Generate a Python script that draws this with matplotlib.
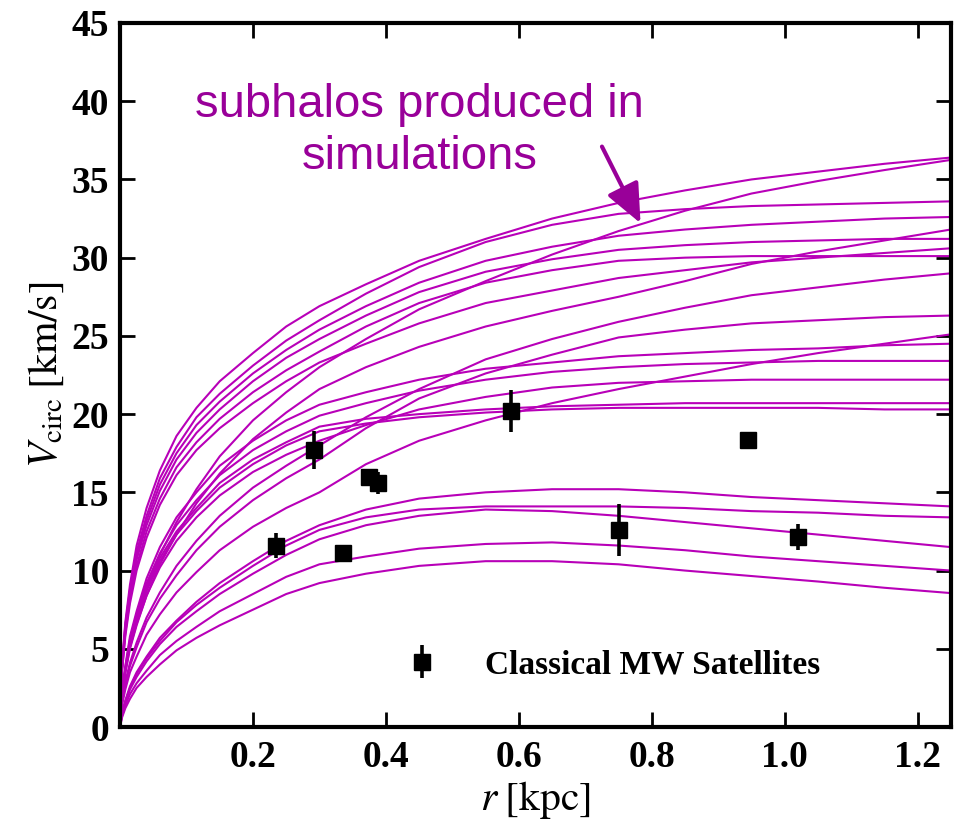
import matplotlib
matplotlib.use("Agg")
import matplotlib.pyplot as plt

# radii (kpc) at which each rotation curve is tabulated
r_grid = [0, 0.003, 0.008, 0.015, 0.025, 0.04, 0.06, 0.085, 0.115, 0.15, 0.2, 0.25, 0.3,
          0.37, 0.45, 0.55, 0.65, 0.75, 0.85, 0.95, 1.05, 1.15, 1.25]

# circular-velocity curves (km/s) of the massive simulated subhalos
upper_curves = [
    [0, 4.0, 6.7, 9.1, 11.6, 14.0, 16.4, 18.6, 20.4, 22.1, 23.9, 25.6, 26.9,
     28.3, 29.8, 31.2, 32.5, 33.5, 34.3, 35.0, 35.5, 36.0, 36.4],
    [0, 3.9, 6.5, 8.8, 11.2, 13.5, 15.9, 17.9, 19.8, 21.3, 23.1, 24.7, 26.0,
     27.7, 29.4, 31.0, 32.1, 32.8, 33.1, 33.3, 33.4, 33.5, 33.6],
    [0, 3.8, 6.4, 8.6, 10.9, 13.2, 15.5, 17.5, 19.3, 20.8, 22.6, 24.1, 25.4,
     26.9, 28.4, 29.8, 30.7, 31.4, 31.8, 32.1, 32.3, 32.5, 32.6],
    [0, 3.7, 6.2, 8.4, 10.7, 12.9, 15.1, 17.1, 18.8, 20.3, 22.1, 23.6, 24.8,
     26.3, 27.8, 29.1, 29.9, 30.5, 30.8, 31.0, 31.1, 31.2, 31.2],
    [0, 3.6, 6.0, 8.2, 10.3, 12.5, 14.6, 16.6, 18.2, 19.7, 21.4, 22.8, 24.0,
     25.6, 27.1, 28.4, 29.2, 29.8, 30.0, 30.1, 30.1, 30.1, 30.1],
    [0, 3.5, 5.8, 7.9, 10.0, 12.1, 14.2, 16.1, 17.7, 19.1, 20.7, 22.1, 23.3,
     24.5, 25.8, 27.1, 27.9, 28.7, 29.2, 29.7, 30.0, 30.3, 30.6],
    [0, 2.1, 3.7, 5.3, 6.9, 9.0, 11.0, 13.1, 15.2, 17.3, 19.6, 21.4, 23.0,
     24.8, 26.7, 28.5, 30.2, 31.7, 33.0, 34.1, 34.9, 35.6, 36.25],
    [0, 2.3, 3.9, 5.8, 7.4, 9.5, 11.5, 13.4, 15.0, 16.7, 18.3, 19.6, 20.6,
     21.4, 22.2, 22.9, 23.3, 23.7, 23.9, 24.1, 24.2, 24.4, 24.5],
    [0, 1.9, 3.5, 5.0, 6.5, 8.4, 10.4, 12.3, 14.3, 16.2, 18.4, 20.1, 21.6,
     23.0, 24.3, 25.6, 26.6, 27.5, 28.5, 29.6, 30.4, 31.1, 31.8],
    [0, 2.2, 3.8, 5.6, 7.2, 9.2, 11.1, 12.9, 14.5, 16.1, 17.7, 18.9, 19.9,
     20.7, 21.5, 22.2, 22.7, 23.0, 23.2, 23.3, 23.4, 23.4, 23.4],
    [0, 2.1, 3.6, 5.4, 6.9, 8.8, 10.8, 12.5, 14.0, 15.6, 17.1, 18.2, 19.2,
     19.7, 20.0, 20.3, 20.5, 20.6, 20.7, 20.7, 20.7, 20.7, 20.7],
    [0, 2.1, 3.6, 5.3, 6.8, 8.7, 10.6, 12.3, 13.8, 15.3, 16.8, 18.0, 18.9,
     19.4, 19.8, 20.1, 20.3, 20.4, 20.4, 20.4, 20.4, 20.3, 20.3],
    [0, 2.0, 3.5, 5.1, 6.6, 8.4, 10.2, 11.9, 13.4, 14.8, 16.3, 17.4, 18.3,
     19.3, 20.3, 21.1, 21.7, 22.0, 22.1, 22.2, 22.2, 22.2, 22.2],
    [0, 1.6, 2.9, 4.1, 5.4, 7.0, 8.6, 10.3, 11.9, 13.5, 15.3, 16.7, 18.0,
     19.8, 21.6, 23.5, 24.8, 25.9, 26.8, 27.6, 28.1, 28.6, 29.0],
    [0, 1.5, 2.7, 3.9, 5.1, 6.7, 8.2, 9.7, 11.3, 12.8, 14.5, 15.9, 17.1,
     19.1, 21.0, 22.6, 23.8, 24.9, 25.4, 25.8, 26.0, 26.2, 26.3],
    [0, 1.4, 2.4, 3.5, 4.5, 5.9, 7.2, 8.6, 9.9, 11.3, 12.8, 14.0, 15.0,
     16.8, 18.3, 19.6, 20.7, 21.6, 22.4, 23.2, 23.9, 24.5, 25.1],
]
lower_curves = [
    [0, 0.9, 1.7, 2.6, 3.5, 4.5, 5.7, 6.8, 8.0, 9.2, 10.6, 11.9, 12.9,
     13.9, 14.6, 15.0, 15.2, 15.2, 15.0, 14.7, 14.5, 14.3, 14.1],
    [0, 0.9, 1.6, 2.5, 3.4, 4.4, 5.5, 6.7, 7.8, 8.9, 10.3, 11.6, 12.6,
     13.4, 13.9, 14.1, 14.1, 14.1, 14.0, 13.8, 13.7, 13.5, 13.4],
    [0, 0.8, 1.6, 2.4, 3.2, 4.2, 5.3, 6.4, 7.4, 8.5, 9.8, 11.0, 12.0,
     12.9, 13.5, 13.9, 13.8, 13.5, 13.1, 12.7, 12.3, 11.9, 11.5],
    [0, 0.7, 1.4, 2.1, 2.8, 3.6, 4.6, 5.5, 6.4, 7.4, 8.5, 9.6, 10.4,
     10.9, 11.4, 11.7, 11.8, 11.6, 11.3, 10.9, 10.6, 10.3, 10.0],
    [0, 0.6, 1.2, 1.8, 2.5, 3.2, 4.0, 4.9, 5.7, 6.5, 7.5, 8.5, 9.2,
     9.8, 10.3, 10.6, 10.6, 10.4, 10.0, 9.65, 9.3, 8.9, 8.56],
]

# classical Milky Way satellites: half-light radius, V_circ and its error
sat_r = [0.235, 0.292, 0.335, 0.374, 0.388, 0.588, 0.751, 0.945, 1.020]
sat_v = [11.6, 17.7, 11.1, 16.0, 15.6, 20.2, 12.6, 18.35, 12.15]
sat_err = [0.8, 1.2, 0.3, 0.3, 0.7, 1.35, 1.65, 0.3, 0.85]

x_ticks = [0.2, 0.4, 0.6, 0.8, 1.0, 1.2]
y_ticks = [0, 5, 10, 15, 20, 25, 30, 35, 40, 45]

curve_color = "#b800b8"
note_color = "#990099"

plt.rcParams["mathtext.fontset"] = "stix"

fig = plt.figure(figsize=(9.6, 8.24), dpi=100)
ax = fig.add_axes([0.125, 0.1177, 0.8656, 0.8544])

for v in upper_curves + lower_curves:
    ax.plot(r_grid, v, color=curve_color, lw=1.5, solid_joinstyle="round",
            solid_capstyle="round", zorder=2)

ax.errorbar(sat_r, sat_v, yerr=sat_err, fmt="s", color="black", ms=11,
            elinewidth=2.6, capsize=0, zorder=4, label="Classical MW Satellites")

ax.set_xlim(0, 1.25)
ax.set_ylim(0, 45)
ax.set_xticks(x_ticks)
ax.set_yticks(y_ticks)
ax.set_xticklabels([f"{t:.1f}" for t in x_ticks])
ax.set_yticklabels([str(t) for t in y_ticks])

for lab in ax.get_xticklabels() + ax.get_yticklabels():
    lab.set_fontfamily("Liberation Serif")
    lab.set_fontweight("bold")
    lab.set_fontsize(27)

ax.tick_params(direction="in", top=True, right=True, length=11, width=2.0)
ax.tick_params(axis="x", pad=9)
ax.tick_params(axis="y", pad=8)
for s in ax.spines.values():
    s.set_linewidth(3.0)

ax.set_xlabel(r"$r\;[\mathrm{kpc}]$", fontsize=30, labelpad=3)
ax.set_ylabel(r"$V_{\mathrm{circ}}\;[\mathrm{km/s}]$", fontsize=30, labelpad=4)

ax.legend(loc="center left", bbox_to_anchor=(0.327, 0.0882), frameon=False,
          handlelength=1.0, handletextpad=1.39, borderaxespad=0,
          prop={"family": "Liberation Serif", "weight": "bold", "size": 24})

note_kw = dict(color=note_color, fontsize=34, family="Liberation Sans",
               ha="center", va="baseline")
ax.text(0.451, 38.99, "subhalos produced in", **note_kw)
ax.text(0.451, 35.66, "simulations", **note_kw)
ax.annotate("", xy=(0.783, 32.2), xytext=(0.725, 37.1),
            arrowprops=dict(arrowstyle="-|>,head_length=2.4,head_width=1.05",
                            color=note_color, lw=3, shrinkA=0, shrinkB=0))

fig.savefig("out.png", dpi=100)
